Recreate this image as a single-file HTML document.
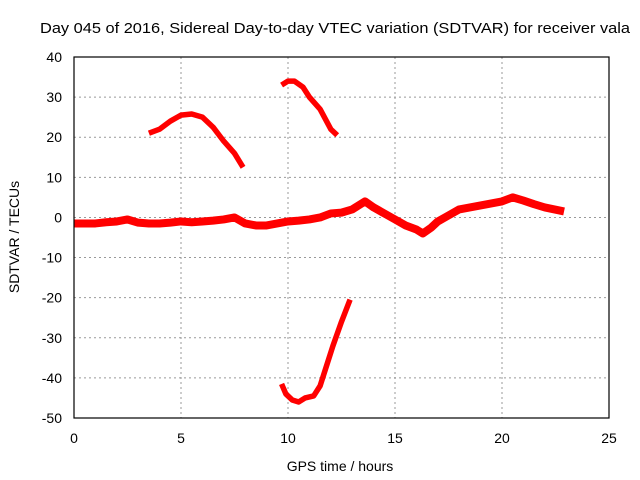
<!DOCTYPE html>
<html><head><meta charset="utf-8"><style>
html,body{margin:0;padding:0;background:#fff}
svg{display:block;font-family:"Liberation Sans",sans-serif}
</style></head><body>
<svg id="chart" width="640" height="480" viewBox="0 0 640 480">
<text x="335" y="33" font-size="15" text-anchor="middle" textLength="590" lengthAdjust="spacingAndGlyphs" fill="#000">Day 045 of 2016, Sidereal Day-to-day VTEC variation (SDTVAR) for receiver vala</text>
<text x="340" y="471" font-size="14" text-anchor="middle">GPS time / hours</text>
<text transform="translate(19,237) rotate(-90)" font-size="14" text-anchor="middle">SDTVAR / TECUs</text>
<g id="grid"></g><g id="ticks"></g><g id="series"></g>
<rect x="74" y="57" width="535" height="361" fill="none" stroke="#000" stroke-width="1.2"/>
</svg>
<script>
const xTicks=[0,5,10,15,20,25];
const yTicks=[40,30,20,10,0,-10,-20,-30,-40,-50];
const mainX=[0,0.5,1,1.5,2,2.5,3,3.5,4,4.5,5,5.5,6,6.5,7,7.5,8,8.5,9,9.5,10,10.5,11,11.5,12,12.5,13,13.6,14,14.5,15,15.5,16,16.3,16.7,17,17.5,18,19,20,20.5,21,21.5,22,22.9];
const mainY=[-1.5,-1.5,-1.5,-1.2,-1,-0.5,-1.3,-1.5,-1.5,-1.3,-1,-1.2,-1,-0.8,-0.5,0,-1.5,-2,-2,-1.5,-1,-0.8,-0.5,0,1,1.2,2,4,2.5,1,-0.5,-2,-3,-4,-2.5,-1,0.5,2,3,4,5,4.2,3.3,2.5,1.5];
const arc1X=[3.5,4,4.5,5,5.5,6,6.5,7,7.5,7.9];
const arc1Y=[21,22,24,25.5,25.8,25,22.5,19,16,12.5];
const arc2X=[9.7,10,10.3,10.7,11,11.5,12,12.3];
const arc2Y=[33,34,34,32.5,30,27,22,20.5];
const dipX=[9.7,9.9,10.2,10.5,10.8,11.2,11.5,11.8,12.1,12.5,12.9];
const dipY=[-41.5,-44,-45.5,-46,-45,-44.5,-42,-37,-32,-26,-20.5];
const sx=v=>74+v*535/25, sy=v=>57+(40-v)*361/90;
const NS='http://www.w3.org/2000/svg';
const mk=(t,a,p)=>{const e=document.createElementNS(NS,t);for(const k in a)e.setAttribute(k,a[k]);p.appendChild(e);return e;};
const grid=document.getElementById('grid'),ticks=document.getElementById('ticks'),series=document.getElementById('series');
xTicks.forEach(v=>{
 if(v>0&&v<25){const g=mk('line',{x1:sx(v),x2:sx(v),y1:57,y2:418,stroke:'#999','stroke-dasharray':'2,3'},grid);
 
 }
 const t=mk('text',{x:sx(v),y:443,'font-size':14,'text-anchor':'middle'},ticks);t.textContent=v;
 
 
});
yTicks.forEach(v=>{
 if(v<40&&v>-50){const g=mk('line',{x1:74,x2:609,y1:sy(v),y2:sy(v),stroke:'#999','stroke-dasharray':'2,3'},grid);
 
 }
 const t=mk('text',{x:62,y:sy(v)+5,'font-size':14,'text-anchor':'end'},ticks);t.textContent=v;
 
 
});
[[mainX,mainY,'main-series'],[arc1X,arc1Y,'arc-series-1'],[arc2X,arc2Y,'arc-series-2'],[dipX,dipY,'dip-series']].forEach(([X,Y,n])=>{
 const p=mk('polyline',{points:X.map((x,i)=>sx(x)+','+sy(Y[i])).join(' '),fill:'none',stroke:'#f00','stroke-width':n==='main-series'?8:5.5,'stroke-linejoin':'round'},series);
 
 
});
</script>
</body></html>
